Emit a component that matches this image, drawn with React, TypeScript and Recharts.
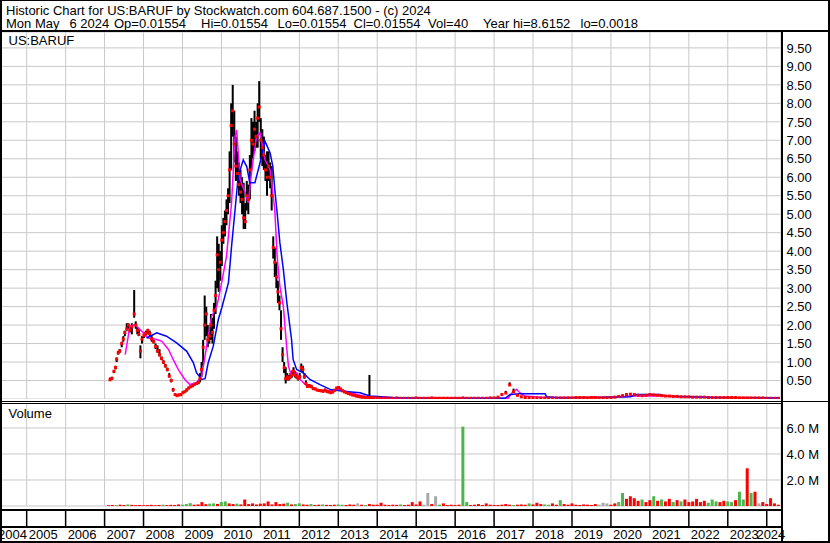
import React from 'react';
import { ComposedChart, Bar, Line, XAxis, YAxis, CartesianGrid } from 'recharts';

const FONT = '"Liberation Sans", Arial, sans-serif';

// --- time axis (decimal years) ---
const X_DOMAIN: [number, number] = [2004.315, 2024.366];
const yearLines = [2005, 2006, 2007, 2008, 2009, 2010, 2011, 2012, 2013, 2014, 2015, 2016, 2017, 2018, 2019, 2020, 2021, 2022, 2023, 2024];
const yearNames = [2004, 2005, 2006, 2007, 2008, 2009, 2010, 2011, 2012, 2013, 2014, 2015, 2016, 2017, 2018, 2019, 2020, 2021, 2022, 2023, 2024];

const priceTicks = [0.5, 1, 1.5, 2, 2.5, 3, 3.5, 4, 4.5, 5, 5.5, 6, 6.5, 7, 7.5, 8, 8.5, 9, 9.5];
const volTicks = [2, 4, 6];

// --- price bars: [t, high, low, close] ---
const bars2007_2008: number[][] = [
  [2007.14, 0.58, 0.5, 0.52], [2007.19, 0.6, 0.52, 0.56], [2007.24, 0.78, 0.7, 0.75], [2007.28, 0.9, 0.8, 0.85],
  [2007.31, 1.12, 1.0, 1.08], [2007.35, 1.3, 1.2, 1.25], [2007.39, 1.35, 1.25, 1.3], [2007.44, 1.55, 1.4, 1.5],
  [2007.48, 1.7, 1.55, 1.62], [2007.52, 1.85, 1.7, 1.8], [2007.57, 2.05, 1.85, 1.9], [2007.61, 2.05, 1.9, 2.0],
  [2007.65, 1.95, 1.8, 1.86], [2007.7, 2.05, 1.75, 1.95], [2007.76, 2.95, 2.2, 2.3], [2007.8, 2.1, 1.9, 2.0],
  [2007.84, 1.95, 1.75, 1.85], [2007.88, 1.9, 1.7, 1.75], [2007.92, 1.45, 1.1, 1.3], [2007.96, 1.7, 1.5, 1.62],
  [2008.01, 1.8, 1.65, 1.72], [2008.06, 1.85, 1.7, 1.78], [2008.11, 1.9, 1.75, 1.85], [2008.16, 1.85, 1.7, 1.77],
  [2008.21, 1.7, 1.55, 1.63], [2008.26, 1.6, 1.5, 1.55], [2008.31, 1.5, 1.35, 1.42], [2008.36, 1.45, 1.25, 1.3],
  [2008.41, 1.35, 1.15, 1.2], [2008.46, 1.15, 1.05, 1.1], [2008.51, 1.05, 0.95, 1.0], [2008.56, 0.95, 0.85, 0.9],
  [2008.61, 0.85, 0.75, 0.8], [2008.66, 0.7, 0.58, 0.62], [2008.71, 0.55, 0.45, 0.5], [2008.76, 0.3, 0.2, 0.25],
  [2008.81, 0.15, 0.1, 0.12], [2008.86, 0.12, 0.07, 0.09], [2008.91, 0.14, 0.09, 0.11], [2008.96, 0.15, 0.1, 0.12],
];
const bars2009_2011: number[][] = [
  [2009.01, 0.2, 0.14, 0.17], [2009.06, 0.22, 0.16, 0.2], [2009.11, 0.28, 0.2, 0.25], [2009.16, 0.33, 0.26, 0.3],
  [2009.21, 0.36, 0.3, 0.33], [2009.26, 0.4, 0.32, 0.36], [2009.31, 0.42, 0.36, 0.4], [2009.36, 0.45, 0.38, 0.42],
  [2009.41, 0.5, 0.4, 0.45], [2009.45, 0.7, 0.45, 0.55], [2009.49, 1.0, 0.6, 0.8], [2009.53, 1.6, 0.9, 1.4],
  [2009.57, 2.8, 1.6, 2.0], [2009.61, 2.5, 1.7, 2.3], [2009.65, 2.0, 1.4, 1.6], [2009.69, 1.9, 1.5, 1.7],
  [2009.73, 2.3, 1.6, 2.0], [2009.77, 2.2, 1.5, 1.8], [2009.81, 2.6, 1.9, 2.4], [2009.85, 3.2, 2.3, 2.8],
  [2009.89, 4.4, 3.0, 3.9], [2009.93, 4.2, 2.9, 3.5], [2009.97, 4.0, 3.2, 3.7], [2010.01, 4.7, 3.6, 4.3],
  [2010.05, 4.9, 4.2, 4.5], [2010.09, 5.1, 4.4, 4.8], [2010.13, 5.4, 4.7, 5.1], [2010.17, 5.7, 5.0, 5.5],
  [2010.21, 6.7, 5.3, 6.2], [2010.25, 8.0, 6.2, 7.4], [2010.29, 8.5, 7.1, 7.8], [2010.33, 7.8, 6.4, 6.9],
  [2010.37, 7.1, 5.9, 6.3], [2010.41, 6.7, 5.9, 6.1], [2010.45, 6.4, 5.5, 5.8], [2010.49, 6.2, 5.3, 5.6],
  [2010.53, 6.0, 5.0, 5.4], [2010.57, 5.85, 4.6, 4.9], [2010.61, 5.3, 4.6, 4.8], [2010.65, 5.9, 5.1, 5.5],
  [2010.69, 5.8, 5.0, 5.4], [2010.73, 6.6, 5.4, 6.2], [2010.77, 7.6, 6.2, 7.0], [2010.81, 7.5, 6.5, 6.9],
  [2010.85, 7.8, 6.7, 7.3], [2010.89, 7.5, 6.8, 7.1], [2010.93, 8.0, 6.8, 7.6], [2010.97, 8.6, 7.5, 7.9],
  [2011.01, 7.6, 6.5, 7.0], [2011.05, 7.3, 6.3, 6.8], [2011.09, 7.1, 6.2, 6.6], [2011.13, 6.6, 5.9, 6.2],
  [2011.17, 6.7, 5.5, 6.0], [2011.21, 6.7, 5.9, 6.3], [2011.25, 6.4, 5.7, 6.0], [2011.29, 6.3, 5.1, 5.5],
  [2011.33, 4.4, 3.8, 4.1], [2011.37, 4.1, 3.3, 3.7], [2011.41, 3.7, 3.0, 3.3], [2011.45, 3.2, 2.6, 2.9],
  [2011.49, 2.8, 2.4, 2.6], [2011.53, 2.4, 1.6, 1.9], [2011.57, 1.4, 1.0, 1.2], [2011.61, 1.0, 0.7, 0.85],
  [2011.65, 0.86, 0.42, 0.55], [2011.69, 0.7, 0.5, 0.6], [2011.73, 0.65, 0.5, 0.55], [2011.77, 0.7, 0.55, 0.6],
  [2011.81, 0.77, 0.58, 0.65], [2011.85, 0.86, 0.68, 0.75], [2011.89, 0.75, 0.58, 0.65], [2011.93, 0.7, 0.55, 0.6],
  [2011.97, 0.62, 0.5, 0.55],
];
const bars2012_2013: number[][] = [
  [2012.01, 0.7, 0.55, 0.6], [2012.05, 0.96, 0.75, 0.85], [2012.09, 0.9, 0.7, 0.8], [2012.13, 0.7, 0.55, 0.6],
  [2012.17, 0.5, 0.38, 0.42], [2012.21, 0.4, 0.3, 0.34], [2012.26, 0.4, 0.32, 0.36], [2012.31, 0.38, 0.3, 0.33],
  [2012.36, 0.32, 0.26, 0.28], [2012.41, 0.3, 0.24, 0.27], [2012.46, 0.27, 0.22, 0.24], [2012.51, 0.26, 0.2, 0.23],
  [2012.56, 0.25, 0.2, 0.22], [2012.61, 0.24, 0.18, 0.21], [2012.66, 0.28, 0.2, 0.24], [2012.71, 0.25, 0.18, 0.2],
  [2012.76, 0.22, 0.16, 0.19], [2012.81, 0.2, 0.15, 0.17], [2012.86, 0.22, 0.16, 0.19], [2012.91, 0.26, 0.2, 0.24],
  [2012.96, 0.32, 0.25, 0.3], [2013.01, 0.34, 0.28, 0.31], [2013.06, 0.3, 0.25, 0.27], [2013.11, 0.25, 0.2, 0.22],
  [2013.16, 0.22, 0.17, 0.19], [2013.21, 0.2, 0.15, 0.17], [2013.26, 0.17, 0.13, 0.15], [2013.31, 0.15, 0.11, 0.13],
  [2013.36, 0.13, 0.1, 0.11], [2013.41, 0.12, 0.09, 0.1], [2013.46, 0.1, 0.07, 0.08], [2013.51, 0.09, 0.06, 0.07],
  [2013.56, 0.08, 0.05, 0.06], [2013.61, 0.07, 0.04, 0.05], [2013.66, 0.06, 0.04, 0.05], [2013.71, 0.05, 0.03, 0.04],
  [2013.76, 0.05, 0.03, 0.04], [2013.8, 0.65, 0.02, 0.04], [2013.85, 0.05, 0.02, 0.03],
];

// --- quiet years, one close per 0.1 year from 2013.9 ---
const tailStart = 2013.9;
const tailStep = 0.1;
const tailClose = [
  0.03, 0.03, 0.02, 0.03, 0.02, 0.02, 0.03, 0.02, 0.02, 0.02,
  0.02, 0.03, 0.02, 0.02, 0.02, 0.03, 0.02, 0.02, 0.02, 0.02,
  0.02, 0.02, 0.02, 0.03, 0.02, 0.02, 0.02, 0.02, 0.02, 0.02,
  0.03, 0.03, 0.05, 0.12, 0.16, 0.38, 0.2, 0.1, 0.06, 0.04,
  0.04, 0.03, 0.03, 0.03, 0.03, 0.03, 0.03, 0.03, 0.03, 0.03,
  0.03, 0.03, 0.04, 0.04, 0.04, 0.03, 0.04, 0.04, 0.03, 0.03,
  0.03, 0.04, 0.05, 0.07, 0.09, 0.12, 0.13, 0.12, 0.1, 0.09,
  0.1, 0.12, 0.11, 0.1, 0.09, 0.08, 0.08, 0.07, 0.07, 0.06,
  0.06, 0.06, 0.05, 0.05, 0.05, 0.05, 0.04, 0.04, 0.04, 0.04,
  0.04, 0.04, 0.04, 0.04, 0.03, 0.03, 0.03, 0.03, 0.03, 0.03,
  0.03, 0.02, 0.02, 0.02, 0.02,
];
const tailHigh = [
  0.04, 0.04, 0.03, 0.04, 0.03, 0.03, 0.04, 0.03, 0.03, 0.03,
  0.03, 0.04, 0.03, 0.03, 0.03, 0.04, 0.03, 0.03, 0.03, 0.03,
  0.03, 0.03, 0.03, 0.04, 0.03, 0.03, 0.03, 0.03, 0.03, 0.03,
  0.03, 0.04, 0.07, 0.15, 0.22, 0.45, 0.28, 0.12, 0.07, 0.05,
  0.05, 0.04, 0.04, 0.04, 0.04, 0.04, 0.04, 0.04, 0.04, 0.04,
  0.04, 0.04, 0.06, 0.05, 0.05, 0.04, 0.06, 0.05, 0.04, 0.04,
  0.04, 0.05, 0.07, 0.09, 0.12, 0.15, 0.16, 0.14, 0.12, 0.1,
  0.12, 0.14, 0.12, 0.11, 0.1, 0.09, 0.09, 0.08, 0.08, 0.07,
  0.07, 0.07, 0.06, 0.06, 0.06, 0.06, 0.05, 0.05, 0.05, 0.05,
  0.05, 0.05, 0.05, 0.05, 0.04, 0.04, 0.04, 0.04, 0.04, 0.04,
  0.04, 0.03, 0.03, 0.03, 0.03,
];

// --- moving averages: [t, value] ---
const blueAvg: number[][] = [
  [2008.08, 1.65], [2008.34, 1.79], [2008.59, 1.7], [2008.85, 1.52], [2009.11, 1.29], [2009.28, 0.98],
  [2009.36, 0.71], [2009.49, 0.53], [2009.58, 0.55], [2009.66, 0.98], [2009.79, 1.43], [2009.92, 2.15],
  [2010.01, 2.47], [2010.18, 3.15], [2010.26, 4.13], [2010.35, 5.12], [2010.43, 6.02], [2010.56, 6.47],
  [2010.65, 6.29], [2010.73, 5.85], [2010.86, 5.85], [2010.99, 6.39], [2011.12, 6.97], [2011.25, 6.66],
  [2011.32, 6.29], [2011.37, 5.66], [2011.43, 5.04], [2011.5, 4.23], [2011.59, 3.5], [2011.68, 2.6],
  [2011.8, 1.61], [2011.84, 1.07], [2011.93, 0.8], [2012.1, 0.71], [2012.27, 0.53], [2012.53, 0.39],
  [2012.79, 0.26], [2013.12, 0.21], [2013.56, 0.17], [2013.81, 0.08], [2014.4, 0.04], [2015.27, 0.02],
  [2017.28, 0.02], [2017.41, 0.12], [2017.66, 0.14], [2018.31, 0.14], [2018.35, 0.06], [2018.7, 0.03],
  [2020.5, 0.06], [2020.66, 0.12], [2021.26, 0.12], [2021.43, 0.08], [2022.62, 0.04], [2024.32, 0.03],
];
const magentaAvg: number[][] = [
  [2007.53, 1.2], [2007.65, 1.97], [2007.78, 2.01], [2007.91, 1.88], [2008.12, 1.65], [2008.34, 1.61],
  [2008.47, 1.56], [2008.64, 1.34], [2008.76, 1.07], [2008.89, 0.8], [2009.06, 0.53], [2009.19, 0.39],
  [2009.36, 0.44], [2009.49, 0.62], [2009.58, 1.16], [2009.66, 1.7], [2009.75, 2.24], [2009.88, 2.5],
  [2009.96, 2.9], [2010.05, 3.4], [2010.13, 3.86], [2010.26, 5.31], [2010.35, 7.1], [2010.39, 7.28],
  [2010.48, 5.93], [2010.61, 5.58], [2010.69, 5.31], [2010.78, 6.2], [2010.9, 7.1], [2010.99, 7.2],
  [2011.12, 6.47], [2011.25, 6.2], [2011.37, 5.12], [2011.43, 3.86], [2011.5, 3.05], [2011.59, 2.5],
  [2011.68, 1.34], [2011.72, 0.89], [2011.8, 0.62], [2011.93, 0.71], [2012.02, 0.53], [2012.19, 0.35],
  [2012.45, 0.26], [2012.7, 0.21], [2013.04, 0.26], [2013.3, 0.17], [2013.56, 0.1], [2013.81, 0.04],
  [2014.07, 0.02], [2017.36, 0.02], [2017.49, 0.21], [2017.58, 0.26], [2017.66, 0.17], [2017.79, 0.08],
  [2018.17, 0.05], [2019.72, 0.04], [2020.36, 0.06], [2020.49, 0.08], [2021.26, 0.08], [2021.77, 0.06],
  [2022.8, 0.04], [2024.32, 0.03],
];

// --- volume (millions), one bar per 0.1 year from 2007.1; g=up r=down n=flat ---
const volStart = 2007.1;
const volStep = 0.1;
const volValues = [
  0.06, 0.08, 0.07, 0.1, 0.08, 0.12, 0.09, 0.07, 0.08, 0.06,
  0.07, 0.09, 0.06, 0.08, 0.1, 0.07, 0.09, 0.08, 0.12, 0.1,
  0.15, 0.22, 0.1, 0.12, 0.3, 0.14, 0.18, 0.2, 0.16, 0.3,
  0.35, 0.2, 0.15, 0.18, 0.12, 0.5, 0.15, 0.2, 0.12, 0.18,
  0.2, 0.35, 0.12, 0.3, 0.15, 0.18, 0.25, 0.12, 0.15, 0.2,
  0.12, 0.1, 0.15, 0.08, 0.1, 0.12, 0.09, 0.08, 0.1, 0.12,
  0.1, 0.08, 0.12, 0.1, 0.2, 0.1, 0.08, 0.15, 0.1, 0.1,
  0.25, 0.1, 0.08, 0.1, 0.09, 0.12, 0.08, 0.1, 0.3, 0.12,
  0.35, 0.1, 1.0, 0.15, 0.75, 0.1, 0.2, 0.08, 0.1, 0.08,
  0.1, 6.1, 0.3, 0.08, 0.1, 0.15, 0.08, 0.2, 0.1, 0.08,
  0.08, 0.1, 0.15, 0.1, 0.08, 0.1, 0.12, 0.1, 0.2, 0.12,
  0.25, 0.15, 0.12, 0.1, 0.2, 0.1, 0.45, 0.15, 0.1, 0.2,
  0.1, 0.08, 0.12, 0.1, 0.08, 0.15, 0.1, 0.25, 0.2, 0.1,
  0.2, 0.3, 1.0, 0.55, 0.75, 0.6, 0.4, 0.5, 0.3, 0.45,
  0.75, 0.4, 0.5, 0.35, 0.55, 0.3, 0.45, 0.35, 0.5, 0.3,
  0.35, 0.55, 0.3, 0.4, 0.25, 0.5, 0.35, 0.3, 0.4, 0.35,
  0.3, 0.45, 1.1, 0.5, 2.9, 1.0, 1.1, 0.2, 0.3, 0.15,
  0.6, 0.2, 0.1,
];
const volColors = [
  'rrgrrgrrrr', 'rrrrgrrrrg', 'ggrrrrggrg', 'grrgrrrrrr', 'rrrrrrgrgg', 'rrgrrgrrrg',
  'grrrnrgrrr', 'rrrrrgrrrr', 'rnnrngrrrr', 'rggrrrrrrr', 'rrrrgrrrgr', 'rrggrrgrrr',
  'rrrrrrnnnr', 'rggrrrrgrr', 'grgrrgrgrr', 'rrrrgggrrg', 'grggrgrnrr', 'rrr',
].join('');

const VOL_FILL: Record<string, string> = { g: '#4cb54c', r: '#ff0000', n: '#a8a8a8' };

// tables for recharts
const priceRows = [
  ...[...bars2007_2008, ...bars2009_2011, ...bars2012_2013].map(([t, hi, lo, cl]) => ({ t, hl: [lo, hi], cl })),
  ...tailClose.map((cl, i) => ({ t: +(tailStart + i * tailStep).toFixed(2), hl: [cl, tailHigh[i]], cl })),
];
const blueRows = blueAvg.map(([t, v]) => ({ t, v }));
const magentaRows = magentaAvg.map(([t, v]) => ({ t, v }));
const volRows = volValues.map((v, i) => ({ t: +(volStart + i * volStep).toFixed(2), v, c: volColors[i] }));
const labelMids = yearNames.map((y) => (Math.max(y, X_DOMAIN[0]) + Math.min(y + 1, X_DOMAIN[1])) / 2);

// --- shapes & ticks ---
const HiLoBar = (p: any) => {
  const { x, y, width, height } = p;
  if (![x, y, width, height].every(Number.isFinite)) return null;
  return <rect x={x + width / 2 - 1} y={y} width={2} height={Math.max(height, 1)} fill="#000" />;
};

const VolBar = (p: any) => {
  const { x, y, width, height, payload } = p;
  if (![x, y, width, height].every(Number.isFinite)) return null;
  return <rect x={x + width / 2 - 1.5} y={y} width={3} height={Math.max(height, 0) + 2.5} fill={VOL_FILL[payload.c]} />;
};

const closeDot = (p: any) => {
  const { cx, cy, index } = p;
  if (!Number.isFinite(cx) || !Number.isFinite(cy)) return <g key={index} />;
  return <rect key={index} x={cx - 1.5} y={cy - 1.5} width={3} height={3} fill="#ff0000" />;
};

const PriceTick = ({ x, y, payload }: any) => (
  <text x={x + 5.5} y={y + 4.7} fontSize={13} fontFamily={FONT} fill="#000">{payload.value.toFixed(2)}</text>
);

const VolTick = ({ x, y, payload }: any) => (
  <text x={x + 5.5} y={y + 4.7} fontSize={13} fontFamily={FONT} fill="#000">{payload.value.toFixed(1)} M</text>
);

const YearLine = ({ x, y }: any) => (
  <line x1={x} x2={x} y1={y + 3} y2={y + 21} stroke="#000" strokeWidth={1.5} />
);

// labels sit in the middle of each year's visible span; the first one is kept near the frame
const YearLabel = ({ x, y, payload }: any) => (
  <text x={Math.max(x - 3, 12.5)} y={y + 12.3} textAnchor="middle" fontSize={13} fontFamily={FONT} fill="#000">{Math.floor(payload.value)}</text>
);

const txt = { fontSize: 13, fontFamily: FONT, fill: '#000' };

export default function App() {
  return (
    <div style={{ position: 'absolute', left: 0, top: 0, width: 830, height: 543, background: '#fff', overflow: 'hidden' }}>
      {/* Price panel */}
      <div style={{ position: 'absolute', left: 0, top: 32 }}>
        <ComposedChart width={830} height={367} data={priceRows} margin={{ top: 0, right: 0, bottom: 0, left: 0 }}>
          <CartesianGrid stroke="#c8c8c8" />
          <XAxis type="number" dataKey="t" domain={X_DOMAIN} ticks={yearLines} allowDataOverflow hide />
          <YAxis orientation="right" width={49} domain={[0, 9.93]} ticks={priceTicks} allowDataOverflow
            axisLine={false} tickLine={false} tickSize={0} tickMargin={0} interval={0} tick={<PriceTick />} />
          <Line data={magentaRows} dataKey="v" stroke="#ff00ff" strokeWidth={1.5} dot={false} activeDot={false} isAnimationActive={false} />
          <Bar dataKey="hl" shape={(p: any) => <HiLoBar {...p} />} isAnimationActive={false} />
          <Line dataKey="cl" stroke="none" dot={closeDot} activeDot={false} isAnimationActive={false} />
          <Line data={blueRows} dataKey="v" stroke="#0000ff" strokeWidth={1.5} dot={false} activeDot={false} isAnimationActive={false} />
        </ComposedChart>
      </div>

      {/* Volume panel + year row */}
      <div style={{ position: 'absolute', left: 0, top: 403 }}>
        <ComposedChart width={830} height={138} data={volRows} margin={{ top: 0, right: 0, bottom: 0, left: 0 }}>
          <CartesianGrid stroke="#c8c8c8" />
          <XAxis type="number" dataKey="t" domain={X_DOMAIN} ticks={yearLines} allowDataOverflow height={21}
            axisLine={false} tickLine={false} tickSize={0} tickMargin={0} interval={0} tick={<YearLine />} />
          <XAxis xAxisId="lbl" type="number" dataKey="t" domain={X_DOMAIN} ticks={labelMids} allowDataOverflow height={14}
            axisLine={false} tickLine={false} tickSize={0} tickMargin={0} interval={0} tick={<YearLabel />} />
          <YAxis orientation="right" width={49} domain={[0, 7.92]} ticks={volTicks} allowDataOverflow
            axisLine={false} tickLine={false} tickSize={0} tickMargin={0} interval={0} tick={<VolTick />} />
          <Bar dataKey="v" shape={(p: any) => <VolBar {...p} />} isAnimationActive={false} />
        </ComposedChart>
      </div>

      {/* Frame and captions */}
      <svg width={830} height={543} style={{ position: 'absolute', left: 0, top: 0, pointerEvents: 'none' }}>
        <rect x={0} y={0} width={830} height={1} fill="#000" />
        <rect x={0} y={0} width={2} height={543} fill="#000" />
        <rect x={828} y={0} width={2} height={543} fill="#000" />
        <rect x={0} y={541} width={830} height={2} fill="#000" />
        <rect x={0} y={30} width={830} height={2} fill="#000" />
        <rect x={781} y={30} width={2} height={513} fill="#000" />
        <rect x={0} y={401} width={830} height={1} fill="#000" />
        <rect x={0} y={403} width={781} height={1} fill="#000" />
        <rect x={0} y={509} width={781} height={2} fill="#000" />
        <rect x={0} y={526} width={781} height={2} fill="#000" />

        <text x={6} y={14.5} {...txt}>Historic Chart for US:BARUF by Stockwatch.com 604.687.1500 - (c) 2024</text>
        <text x={6} y={28} {...txt}>Mon May</text>
        <text x={69.5} y={28} {...txt}>6 2024</text>
        <text x={114} y={28} {...txt}>Op=0.01554</text>
        <text x={201} y={28} {...txt}>Hi=0.01554</text>
        <text x={277.5} y={28} {...txt}>Lo=0.01554</text>
        <text x={353.5} y={28} {...txt}>Cl=0.01554</text>
        <text x={428} y={28} {...txt}>Vol=40</text>
        <text x={483} y={28} {...txt}>Year hi=8.6152</text>
        <text x={580.5} y={28} {...txt}>lo=0.0018</text>
        <text x={8.5} y={45} {...txt}>US:BARUF</text>
        <text x={8.5} y={418} {...txt}>Volume</text>
      </svg>
    </div>
  );
}
